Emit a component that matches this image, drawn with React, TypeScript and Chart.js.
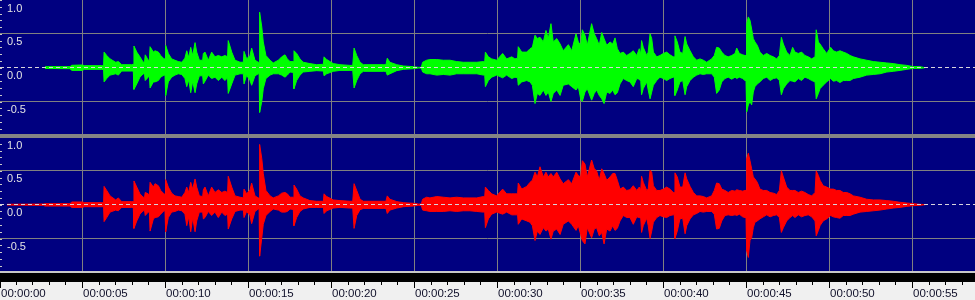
import React, { useEffect, useRef } from "react";
import { Chart, registerables } from "chart.js";
Chart.register(...registerables);

// time of each envelope sample, seconds
const TIMES = [
  0.45, 2.65, 2.74, 4.25, 4.35, 5.0, 5.1, 6.16, 6.27, 6.30,
  6.46, 6.66, 7.00, 7.16, 7.36, 7.96, 8.06, 8.10, 8.27, 8.46,
  8.66, 8.74, 8.78, 8.96, 9.03, 9.07, 9.27, 9.37, 9.57, 9.71,
  9.91, 9.97, 10.01, 10.17, 10.37, 10.57, 10.77, 10.98, 11.17, 11.28,
  11.40, 11.52, 11.64, 11.78, 11.88, 12.04, 12.24, 12.28, 12.38, 12.58,
  12.78, 12.98, 13.18, 13.39, 13.58, 13.74, 13.78, 13.99, 14.19, 14.49,
  14.69, 14.73, 14.89, 15.09, 15.19, 15.39, 15.59, 15.64, 15.67, 15.80,
  15.89, 16.05, 16.30, 16.49, 16.80, 17.00, 17.20, 17.34, 17.50, 17.70,
  17.74, 17.90, 18.10, 18.30, 18.70, 19.11, 19.51, 19.55, 19.71, 20.11,
  20.51, 21.11, 21.28, 21.36, 21.52, 21.72, 21.92, 23.12, 23.28, 23.36,
  23.52, 23.93, 24.33, 24.93, 25.23, 25.41, 25.49, 25.73, 25.93, 26.34,
  26.74, 27.14, 27.54, 27.94, 28.34, 28.75, 29.15, 29.23, 29.27, 29.45,
  29.65, 29.95, 30.31, 30.55, 30.86, 31.05, 31.21, 31.25, 31.46, 31.76,
  31.96, 32.10, 32.26, 32.40, 32.56, 32.76, 32.92, 33.06, 33.22, 33.36,
  33.57, 33.77, 33.96, 34.27, 34.47, 34.73, 34.87, 35.01, 35.11, 35.27,
  35.41, 35.67, 35.83, 35.97, 36.13, 36.28, 36.42, 36.58, 36.78, 36.94,
  37.08, 37.22, 37.38, 37.58, 37.78, 37.98, 38.18, 38.39, 38.54, 38.63,
  38.68, 38.78, 38.99, 39.08, 39.19, 39.29, 39.39, 39.59, 39.79, 39.99,
  40.19, 40.39, 40.59, 40.65, 40.69, 40.83, 40.99, 41.16, 41.30, 41.40,
  41.60, 41.80, 42.00, 42.20, 42.40, 42.60, 42.90, 43.06, 43.20, 43.36,
  43.51, 43.70, 43.90, 44.11, 44.31, 44.41, 44.57, 44.77, 44.91, 44.97,
  45.01, 45.11, 45.21, 45.31, 45.41, 45.51, 45.65, 45.81, 46.01, 46.22,
  46.42, 46.62, 46.82, 46.98, 47.10, 47.22, 47.42, 47.62, 47.78, 47.92,
  48.12, 48.32, 48.52, 48.72, 48.93, 49.13, 49.20, 49.33, 49.43, 49.62,
  49.83, 50.07, 50.23, 50.43, 50.63, 50.83, 51.04, 51.24, 51.44, 51.84,
  52.24, 52.64, 53.04, 53.45, 53.84, 54.25, 54.65, 55.05, 55.45, 55.65,
  55.75,
];

// left channel (green) peak envelope
const LEFT_MAX = [
  null, null, 0.015, 0.015, 0.035, 0.04, 0.03, 0.03, 0.03, 0.23,
  0.18, 0.13, 0.08, 0.09, 0.044, 0.044, 0.05, 0.32, 0.23, 0.16,
  0.08, 0.09, 0.19, 0.11, 0.11, 0.31, 0.23, 0.25, 0.23, 0.18,
  0.13, 0.13, 0.33, 0.21, 0.13, 0.11, 0.09, 0.08, 0.14, 0.25,
  0.15, 0.30, 0.18, 0.37, 0.23, 0.11, 0.11, 0.21, 0.23, 0.11,
  0.23, 0.16, 0.18, 0.16, 0.18, 0.16, 0.40, 0.23, 0.11, 0.08,
  0.08, 0.24, 0.13, 0.18, 0.29, 0.11, 0.08, 0.08, 0.82, 0.60,
  0.38, 0.18, 0.11, 0.07, 0.11, 0.16, 0.19, 0.13, 0.09, 0.09,
  0.25, 0.21, 0.13, 0.08, 0.06, 0.044, 0.05, 0.16, 0.12, 0.06,
  0.044, 0.034, 0.034, 0.29, 0.18, 0.08, 0.044, 0.044, 0.044, 0.14,
  0.08, 0.044, 0.025, 0.015, 0.005, 0.005, 0.08, 0.11, 0.12, 0.12,
  0.11, 0.11, 0.09, 0.08, 0.08, 0.08, 0.09, 0.09, 0.23, 0.16,
  0.13, 0.11, 0.21, 0.13, 0.16, 0.13, 0.14, 0.31, 0.23, 0.23,
  0.28, 0.30, 0.48, 0.43, 0.45, 0.38, 0.55, 0.43, 0.65, 0.38,
  0.43, 0.35, 0.25, 0.34, 0.25, 0.50, 0.38, 0.33, 0.56, 0.48,
  0.33, 0.65, 0.50, 0.43, 0.33, 0.52, 0.43, 0.33, 0.38, 0.35,
  0.44, 0.28, 0.21, 0.23, 0.18, 0.21, 0.25, 0.18, 0.28, 0.20,
  0.40, 0.30, 0.18, 0.23, 0.50, 0.43, 0.23, 0.16, 0.18, 0.21,
  0.23, 0.19, 0.16, 0.16, 0.47, 0.38, 0.23, 0.21, 0.46, 0.35,
  0.25, 0.16, 0.11, 0.13, 0.11, 0.08, 0.13, 0.18, 0.30, 0.29,
  0.23, 0.18, 0.16, 0.18, 0.21, 0.29, 0.21, 0.19, 0.18, 0.18,
  0.65, 0.75, 0.70, 0.57, 0.43, 0.38, 0.33, 0.23, 0.18, 0.21,
  0.18, 0.16, 0.13, 0.18, 0.45, 0.35, 0.23, 0.18, 0.30, 0.23,
  0.21, 0.23, 0.18, 0.16, 0.13, 0.16, 0.56, 0.38, 0.35, 0.28,
  0.21, 0.30, 0.25, 0.23, 0.25, 0.23, 0.21, 0.18, 0.16, 0.13,
  0.11, 0.09, 0.08, 0.07, 0.06, 0.044, 0.034, 0.015, 0.015, 0.005,
  0,
];

const LEFT_MIN = [
  null, null, -0.012, -0.015, -0.04, -0.04, -0.025, -0.025, -0.03, -0.21,
  -0.16, -0.11, -0.09, -0.11, -0.05, -0.05, -0.05, -0.32, -0.24, -0.14,
  -0.09, -0.10, -0.19, -0.14, -0.12, -0.30, -0.21, -0.21, -0.19, -0.14,
  -0.11, -0.11, -0.41, -0.21, -0.14, -0.11, -0.09, -0.10, -0.16, -0.28,
  -0.18, -0.37, -0.20, -0.37, -0.24, -0.12, -0.12, -0.24, -0.20, -0.11,
  -0.16, -0.14, -0.19, -0.14, -0.19, -0.15, -0.38, -0.24, -0.11, -0.09,
  -0.09, -0.24, -0.11, -0.19, -0.26, -0.12, -0.09, -0.09, -0.66, -0.50,
  -0.31, -0.16, -0.11, -0.09, -0.09, -0.11, -0.14, -0.11, -0.064, -0.07,
  -0.31, -0.19, -0.11, -0.064, -0.054, -0.044, -0.05, -0.12, -0.09, -0.054,
  -0.04, -0.04, -0.04, -0.30, -0.19, -0.09, -0.054, -0.054, -0.054, -0.11,
  -0.09, -0.044, -0.025, -0.015, -0.005, -0.005, -0.064, -0.09, -0.09, -0.11,
  -0.10, -0.11, -0.09, -0.09, -0.09, -0.09, -0.11, -0.11, -0.28, -0.19,
  -0.14, -0.11, -0.15, -0.11, -0.16, -0.14, -0.15, -0.26, -0.21, -0.19,
  -0.21, -0.26, -0.53, -0.38, -0.41, -0.33, -0.41, -0.36, -0.50, -0.38,
  -0.33, -0.41, -0.26, -0.24, -0.28, -0.33, -0.28, -0.46, -0.50, -0.36,
  -0.31, -0.48, -0.38, -0.33, -0.41, -0.46, -0.53, -0.36, -0.38, -0.33,
  -0.40, -0.37, -0.24, -0.16, -0.19, -0.21, -0.28, -0.16, -0.17, -0.20,
  -0.40, -0.31, -0.21, -0.33, -0.46, -0.36, -0.26, -0.19, -0.14, -0.16,
  -0.19, -0.16, -0.14, -0.14, -0.41, -0.33, -0.21, -0.19, -0.40, -0.28,
  -0.19, -0.14, -0.11, -0.09, -0.10, -0.09, -0.09, -0.14, -0.38, -0.33,
  -0.21, -0.16, -0.14, -0.17, -0.14, -0.16, -0.14, -0.16, -0.19, -0.19,
  -0.65, -0.55, -0.50, -0.55, -0.36, -0.28, -0.24, -0.21, -0.16, -0.14,
  -0.19, -0.16, -0.15, -0.19, -0.40, -0.31, -0.24, -0.19, -0.20, -0.21,
  -0.16, -0.19, -0.14, -0.16, -0.19, -0.21, -0.46, -0.38, -0.31, -0.26,
  -0.21, -0.16, -0.20, -0.19, -0.22, -0.19, -0.19, -0.19, -0.16, -0.14,
  -0.11, -0.10, -0.09, -0.064, -0.054, -0.04, -0.025, -0.01, -0.01, -0.005,
  0,
];

// right channel (red) peak envelope
const RIGHT_MAX = [
  0.006, 0.01, 0.015, 0.015, 0.04, 0.04, 0.03, 0.03, 0.03, 0.27,
  0.21, 0.13, 0.07, 0.10, 0.045, 0.045, 0.045, 0.35, 0.26, 0.16,
  0.11, 0.11, 0.18, 0.16, 0.14, 0.33, 0.26, 0.31, 0.28, 0.21,
  0.16, 0.15, 0.37, 0.26, 0.17, 0.13, 0.12, 0.11, 0.18, 0.26,
  0.18, 0.33, 0.23, 0.38, 0.26, 0.13, 0.12, 0.22, 0.26, 0.13,
  0.26, 0.18, 0.22, 0.18, 0.20, 0.18, 0.42, 0.26, 0.13, 0.11,
  0.10, 0.23, 0.16, 0.22, 0.32, 0.13, 0.10, 0.10, 0.89, 0.68,
  0.46, 0.21, 0.13, 0.10, 0.13, 0.17, 0.18, 0.16, 0.11, 0.11,
  0.29, 0.23, 0.13, 0.10, 0.06, 0.05, 0.05, 0.16, 0.12, 0.07,
  0.06, 0.05, 0.05, 0.31, 0.21, 0.08, 0.05, 0.05, 0.05, 0.13,
  0.08, 0.045, 0.03, 0.02, 0.01, 0.01, 0.08, 0.11, 0.10, 0.12,
  0.11, 0.10, 0.11, 0.10, 0.10, 0.10, 0.12, 0.12, 0.26, 0.21,
  0.16, 0.13, 0.23, 0.16, 0.16, 0.16, 0.16, 0.32, 0.23, 0.27,
  0.33, 0.36, 0.48, 0.41, 0.56, 0.41, 0.48, 0.41, 0.46, 0.41,
  0.48, 0.38, 0.31, 0.37, 0.31, 0.48, 0.43, 0.41, 0.65, 0.60,
  0.41, 0.66, 0.53, 0.50, 0.36, 0.53, 0.46, 0.36, 0.41, 0.46,
  0.46, 0.36, 0.23, 0.26, 0.21, 0.22, 0.28, 0.21, 0.26, 0.22,
  0.42, 0.33, 0.21, 0.23, 0.51, 0.48, 0.28, 0.21, 0.21, 0.23,
  0.26, 0.23, 0.18, 0.18, 0.47, 0.41, 0.26, 0.26, 0.47, 0.38,
  0.27, 0.18, 0.13, 0.13, 0.12, 0.10, 0.13, 0.21, 0.32, 0.31,
  0.23, 0.21, 0.18, 0.21, 0.20, 0.22, 0.21, 0.20, 0.21, 0.21,
  0.68, 0.76, 0.65, 0.53, 0.41, 0.38, 0.33, 0.23, 0.21, 0.21,
  0.18, 0.17, 0.15, 0.21, 0.50, 0.41, 0.26, 0.21, 0.21, 0.21,
  0.18, 0.20, 0.18, 0.15, 0.13, 0.18, 0.50, 0.43, 0.36, 0.28,
  0.26, 0.23, 0.23, 0.21, 0.21, 0.18, 0.18, 0.16, 0.13, 0.11,
  0.08, 0.07, 0.07, 0.06, 0.05, 0.035, 0.025, 0.015, 0.005, 0.003,
  0,
];

const RIGHT_MIN = [
  -0.006, -0.01, -0.02, -0.02, -0.04, -0.04, -0.03, -0.03, -0.03, -0.25,
  -0.19, -0.11, -0.08, -0.09, -0.04, -0.04, -0.04, -0.35, -0.24, -0.14,
  -0.09, -0.09, -0.16, -0.11, -0.11, -0.39, -0.21, -0.19, -0.18, -0.14,
  -0.09, -0.09, -0.40, -0.19, -0.11, -0.10, -0.08, -0.09, -0.14, -0.31,
  -0.18, -0.40, -0.19, -0.40, -0.24, -0.11, -0.11, -0.21, -0.19, -0.10,
  -0.16, -0.11, -0.19, -0.11, -0.16, -0.14, -0.36, -0.21, -0.10, -0.08,
  -0.08, -0.19, -0.10, -0.16, -0.28, -0.10, -0.064, -0.064, -0.76, -0.49,
  -0.29, -0.16, -0.10, -0.064, -0.08, -0.11, -0.11, -0.10, -0.064, -0.07,
  -0.31, -0.19, -0.10, -0.064, -0.04, -0.04, -0.04, -0.13, -0.09, -0.05,
  -0.04, -0.05, -0.05, -0.35, -0.16, -0.074, -0.055, -0.055, -0.055, -0.13,
  -0.08, -0.05, -0.03, -0.02, -0.01, -0.01, -0.08, -0.09, -0.10, -0.10,
  -0.10, -0.09, -0.10, -0.09, -0.09, -0.10, -0.11, -0.11, -0.34, -0.21,
  -0.14, -0.11, -0.14, -0.11, -0.15, -0.15, -0.15, -0.29, -0.21, -0.24,
  -0.26, -0.31, -0.53, -0.39, -0.44, -0.34, -0.39, -0.36, -0.51, -0.39,
  -0.36, -0.44, -0.29, -0.24, -0.29, -0.38, -0.31, -0.44, -0.53, -0.58,
  -0.34, -0.49, -0.36, -0.34, -0.46, -0.41, -0.58, -0.36, -0.39, -0.31,
  -0.38, -0.35, -0.24, -0.16, -0.19, -0.19, -0.29, -0.18, -0.19, -0.20,
  -0.41, -0.31, -0.20, -0.31, -0.50, -0.39, -0.26, -0.19, -0.16, -0.18,
  -0.19, -0.16, -0.15, -0.15, -0.50, -0.39, -0.21, -0.20, -0.43, -0.31,
  -0.21, -0.15, -0.13, -0.10, -0.11, -0.10, -0.10, -0.14, -0.36, -0.35,
  -0.24, -0.16, -0.15, -0.16, -0.15, -0.16, -0.14, -0.18, -0.19, -0.19,
  -0.68, -0.78, -0.53, -0.49, -0.34, -0.26, -0.24, -0.21, -0.18, -0.15,
  -0.18, -0.16, -0.15, -0.19, -0.41, -0.34, -0.24, -0.19, -0.16, -0.19,
  -0.15, -0.18, -0.16, -0.15, -0.18, -0.24, -0.46, -0.38, -0.31, -0.24,
  -0.21, -0.16, -0.18, -0.19, -0.20, -0.16, -0.16, -0.16, -0.14, -0.11,
  -0.10, -0.09, -0.08, -0.064, -0.05, -0.04, -0.025, -0.015, -0.01, -0.003,
  0,
];

const Y_LABEL_VALUES = [1.0, 0.5, 0.0, -0.5];
const Y_LABELS = ["1.0", "0.5", "0.0", "-0.5"];
const RULER_END_SECONDS = 58;
const MAJOR_EVERY = 5;

const X_MIN = 0.03;
const X_MAX = 58.765;
const Y_MIN = -0.98;
const Y_MAX = 1.0;

const NAVY = "#000080";
const GRID = "#808080";
const FONT = '"Liberation Sans", Arial, sans-serif';

const pad2 = (n: number) => (n < 10 ? "0" + n : String(n));
const fmtTime = (s: number) => `00:${pad2(Math.floor(s / 60))}:${pad2(s % 60)}`;

function makeChart(
  canvas: HTMLCanvasElement,
  maxVals: (number | null)[],
  minVals: (number | null)[],
  color: string,
  withRuler: boolean,
  bottomPad: number
) {
  const decor = {
    id: "waveDecor",
    beforeDraw(chart: any) {
      const { ctx, chartArea: a } = chart;
      ctx.save();
      ctx.fillStyle = NAVY;
      ctx.fillRect(a.left, a.top, a.right - a.left, a.bottom - a.top);
      ctx.restore();
    },
    afterDatasetsDraw(chart: any) {
      const { ctx, chartArea: a } = chart;
      const y = chart.scales.y;
      ctx.save();
      const y0 = Math.floor(y.getPixelForValue(0)) + 0.5;
      ctx.strokeStyle = "#d8d4dc";
      ctx.lineWidth = 1;
      ctx.setLineDash([4, 3]);
      ctx.beginPath();
      ctx.moveTo(a.left, y0);
      ctx.lineTo(a.right, y0);
      ctx.stroke();
      ctx.setLineDash([]);
      ctx.fillStyle = "#c8c8c8";
      for (let k = -9; k <= 10; k++) {
        const py = Math.round(y.getPixelForValue(k / 10));
        if (py >= a.top && py < a.bottom) ctx.fillRect(0, py, 2, 1);
      }
      ctx.fillStyle = "#e4e4e4";
      ctx.font = `11px ${FONT}`;
      ctx.textAlign = "left";
      ctx.textBaseline = "alphabetic";
      Y_LABEL_VALUES.forEach((v, i) => {
        ctx.fillText(Y_LABELS[i], 7, y.getPixelForValue(v) + 11.5);
      });
      ctx.restore();
    },
    afterDraw(chart: any) {
      if (!withRuler) return;
      const { ctx, chartArea: a } = chart;
      const x = chart.scales.x;
      const W = chart.width;
      const H = chart.height;
      const top = a.bottom;
      ctx.save();
      ctx.fillStyle = "#c8c8c8";
      ctx.fillRect(0, top, W, 2);
      ctx.fillStyle = "#000000";
      ctx.fillRect(0, top + 2, W, 9);
      ctx.fillStyle = "#f0f0f0";
      ctx.fillRect(0, top + 11, W, H - top - 11);
      ctx.font = `11.5px ${FONT}`;
      ctx.textAlign = "left";
      ctx.textBaseline = "alphabetic";
      for (let s = 0; s <= RULER_END_SECONDS; s++) {
        let px = Math.round(x.getPixelForValue(s) - 0.5);
        if (px < 0) px = 0;
        const major = s % MAJOR_EVERY === 0;
        ctx.fillStyle = "#000000";
        ctx.fillRect(px, top + 11, 1, major ? 6 : 3);
        if (major) {
          ctx.fillStyle = "#10102a";
          ctx.fillText(fmtTime(s), px + 1, top + 26);
        }
      }
      ctx.restore();
    },
  };

  const upper = TIMES.map((t, i) => ({ x: t, y: maxVals[i] }));
  const lower = TIMES.map((t, i) => ({ x: t, y: minVals[i] }));

  return new Chart(canvas, {
    type: "line",
    data: {
      datasets: [
        {
          data: upper as any,
          fill: "+1",
          backgroundColor: color,
          borderColor: color,
          borderWidth: 1,
          pointRadius: 0,
          tension: 0,
        },
        {
          data: lower as any,
          fill: false,
          backgroundColor: color,
          borderColor: color,
          borderWidth: 1,
          pointRadius: 0,
          tension: 0,
        },
      ],
    },
    options: {
      animation: false,
      responsive: false,
      maintainAspectRatio: false,
      devicePixelRatio: 1,
      events: [],
      layout: { padding: { left: 0, right: 0, top: 0, bottom: bottomPad } },
      plugins: { legend: { display: false }, tooltip: { enabled: false } },
      scales: {
        x: {
          type: "linear",
          min: X_MIN,
          max: X_MAX,
          display: true,
          border: { display: false },
          ticks: { display: false, stepSize: MAJOR_EVERY, includeBounds: false },
          grid: {
            drawTicks: false,
            color: (c: any) =>
              c.tick && c.tick.value > 0.5 && c.tick.value < X_MAX - 0.5 ? GRID : "rgba(0,0,0,0)",
          },
        },
        y: {
          type: "linear",
          min: Y_MIN,
          max: Y_MAX,
          display: true,
          border: { display: false },
          ticks: { display: false, stepSize: 0.5, includeBounds: false },
          grid: {
            drawTicks: false,
            color: (c: any) =>
              c.tick && Math.abs(Math.abs(c.tick.value) - 0.5) < 1e-6 ? GRID : "rgba(0,0,0,0)",
          },
        },
      },
    },
    plugins: [decor],
  } as any);
}

export default function App() {
  const topRef = useRef<HTMLCanvasElement>(null);
  const botRef = useRef<HTMLCanvasElement>(null);

  useEffect(() => {
    const c1 = makeChart(topRef.current!, LEFT_MAX, LEFT_MIN, "#00ff00", false, 0);
    const c2 = makeChart(botRef.current!, RIGHT_MAX, RIGHT_MIN, "#ff0000", true, 29);
    return () => {
      c1.destroy();
      c2.destroy();
    };
  }, []);

  return (
    <div
      style={{
        position: "absolute",
        left: 0,
        top: 0,
        width: 975,
        height: 300,
        background: "#f0f0f0",
        overflow: "hidden",
      }}
    >
      <canvas
        ref={topRef}
        width={975}
        height={134}
        style={{ position: "absolute", left: 0, top: 0, width: 975, height: 134 }}
      />
      <canvas
        ref={botRef}
        width={975}
        height={163}
        style={{ position: "absolute", left: 0, top: 137, width: 975, height: 163 }}
      />
      <div
        style={{
          position: "absolute",
          left: 0,
          top: 134,
          width: 975,
          height: 4,
          background: "#848484",
          zIndex: 2,
        }}
      />
    </div>
  );
}
